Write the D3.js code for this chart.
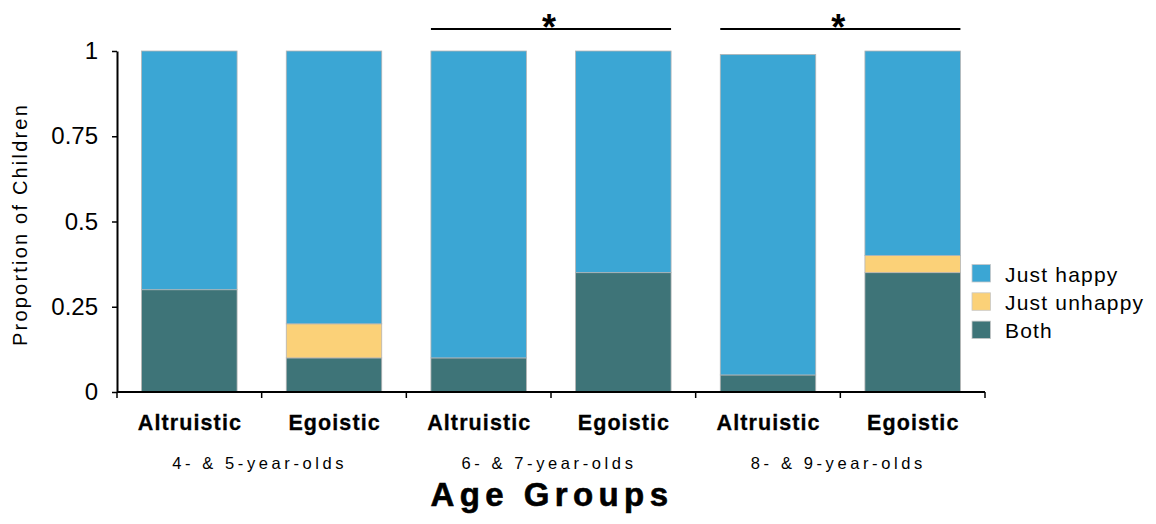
<!DOCTYPE html>
<html>
<head>
<meta charset="utf-8">
<script src="https://cdn.jsdelivr.net/npm/d3@7"></script>
<style>
  body { margin: 0; background: #fff; }
  svg { display: block; font-family: "Liberation Sans", Arial, Helvetica, sans-serif; }
</style>
</head>
<body>
<svg id="chart" width="1156" height="524"></svg>
<script>
// Conditions in draw order, left to right
const ageGroups = ["4- & 5-year-olds", "6- & 7-year-olds", "8- & 9-year-olds"];
const conditions = ["Altruistic", "Egoistic"];
const both        = [0.30, 0.10, 0.10, 0.35, 0.05, 0.35];
const justUnhappy = [0.00, 0.10, 0.00, 0.00, 0.00, 0.05];
const justHappy   = [0.70, 0.80, 0.90, 0.65, 0.94, 0.60];
const seriesNames = ["Both", "Just unhappy", "Just happy"];
const legendOrder = ["Just happy", "Just unhappy", "Both"];
const yTicks = [0, 0.25, 0.5, 0.75, 1];
const yTickLabels = ["0", "0.25", "0.5", "0.75", "1"];
// Significant comparisons: age-group index
const significant = [1, 2];

const colors = { "Just happy": "#3ba6d4", "Just unhappy": "#fbd178", "Both": "#3e7478" };

const svg = d3.select("#chart");
const plotLeft = 117, plotRight = 985, plotTop = 51, plotBottom = 392;

const keys = [];
ageGroups.forEach((g, gi) => conditions.forEach(c => keys.push(gi + "|" + c)));
const rows = keys.map((k, i) => ({ key: k, "Both": both[i], "Just unhappy": justUnhappy[i], "Just happy": justHappy[i] }));

const x = d3.scaleBand().domain(keys).range([plotLeft, plotRight]).paddingInner(0.34).paddingOuter(0.17);
const y = d3.scaleLinear().domain([0, 1]).range([plotBottom, plotTop]);

const stacked = d3.stack().keys(seriesNames)(rows);

svg.append("g").selectAll("g").data(stacked).join("g")
  .attr("fill", d => colors[d.key])
  .selectAll("rect").data(d => d).join("rect")
  .attr("x", d => x(d.data.key))
  .attr("width", x.bandwidth())
  .attr("y", d => y(d[1]))
  .attr("height", d => Math.max(0, y(d[0]) - y(d[1])))
  .attr("stroke", "#b4b4b4")
  .attr("stroke-width", 0.8)
  .attr("stroke-opacity", d => (d[1] - d[0]) > 0 ? 1 : 0);

// Y axis
const yAxis = d3.axisLeft(y).tickValues(yTicks).tickFormat((d, i) => yTickLabels[i]).tickSize(5).tickSizeOuter(0).tickPadding(14);
const yg = svg.append("g").attr("transform", `translate(${plotLeft},0)`).call(yAxis);
yg.select(".domain").attr("stroke", "#000").attr("stroke-width", 2);
yg.selectAll(".tick line").attr("stroke", "#000").attr("stroke-width", 1.5);
yg.selectAll(".tick text").attr("font-size", 24).attr("fill", "#000").attr("font-family", "Liberation Sans, Arial, sans-serif");

// X axis: line with ticks at band boundaries
const boundaries = d3.range(keys.length + 1).map(i => plotLeft + i * (plotRight - plotLeft) / keys.length);
const xg = svg.append("g");
xg.append("line").attr("x1", plotLeft).attr("x2", plotRight).attr("y1", plotBottom).attr("y2", plotBottom)
  .attr("stroke", "#000").attr("stroke-width", 2);
xg.selectAll("line.tk").data(boundaries).join("line").attr("class", "tk")
  .attr("x1", d => d).attr("x2", d => d).attr("y1", plotBottom).attr("y2", plotBottom + 6)
  .attr("stroke", "#000").attr("stroke-width", 1.5);

// Condition labels
svg.append("g").selectAll("text").data(keys).join("text")
  .attr("x", d => x(d) + x.bandwidth() / 2 + 0.6)
  .attr("y", 430)
  .attr("text-anchor", "middle")
  .attr("font-size", 21.5)
  .attr("font-weight", "bold")
  .attr("letter-spacing", 1.1)
  .attr("stroke", "#000").attr("stroke-width", 0.3)
  .text(d => d.split("|")[1]);

// Age group labels
svg.append("g").selectAll("text").data(ageGroups).join("text")
  .attr("x", (d, i) => (x(keys[2 * i]) + x(keys[2 * i + 1]) + x.bandwidth()) / 2 - 2)
  .attr("y", 469)
  .attr("text-anchor", "middle")
  .attr("font-size", 16.5)
  .attr("letter-spacing", 3.6)
  .text(d => d);

// Axis titles
svg.append("text")
  .attr("x", 552).attr("y", 506)
  .attr("text-anchor", "middle")
  .attr("font-size", 33).attr("font-weight", "bold").attr("letter-spacing", 5.4)
  .attr("stroke", "#000").attr("stroke-width", 0.6)
  .text("Age Groups");

svg.append("text")
  .attr("transform", `translate(27,224.5) rotate(-90)`)
  .attr("text-anchor", "middle")
  .attr("font-size", 20)
  .attr("letter-spacing", 2.2)
  .text("Proportion of Children");

// Significance brackets
const sig = svg.append("g");
significant.forEach(gi => {
  const x1 = x(keys[2 * gi]);
  const x2 = x(keys[2 * gi + 1]) + x.bandwidth();
  sig.append("line").attr("x1", x1).attr("x2", x2).attr("y1", 29).attr("y2", 29)
    .attr("stroke", "#000").attr("stroke-width", 2.2);
  sig.append("text").attr("x", (x1 + x2) / 2 - 2).attr("y", 39.5)
    .attr("text-anchor", "middle").attr("font-size", 36).attr("font-weight", "bold").text("*");
});

// Legend
const lg = svg.append("g").attr("transform", "translate(972,264.5)");
legendOrder.forEach((name, i) => {
  const row = lg.append("g").attr("transform", `translate(0,${i * 28.3})`);
  row.append("rect").attr("width", 18.5).attr("height", 17.5).attr("fill", colors[name])
    .attr("stroke", "#c8c8c8").attr("stroke-width", 0.8);
  row.append("text").attr("x", 33).attr("y", 17).attr("font-size", 21).attr("letter-spacing", 1.2).text(name);
});
</script>
</body>
</html>
